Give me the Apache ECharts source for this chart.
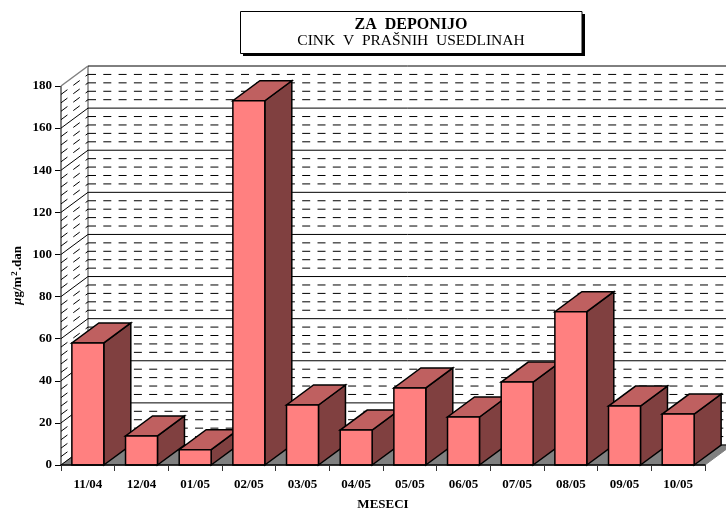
<!DOCTYPE html>
<html><head><meta charset="utf-8">
<style>html,body{margin:0;padding:0;background:#fff}#c{width:726px;height:512px}</style>
<script src="https://cdn.jsdelivr.net/npm/echarts@6/dist/echarts.min.js"></script>
</head><body><div id="c"></div>
<script>
var categories = ['11/04','12/04','01/05','02/05','03/05','04/05','05/05','06/05','07/05','08/05','09/05','10/05'];
var values = [58, 13.8, 7.3, 173, 28.5, 16.6, 36.6, 22.8, 39.4, 72.8, 28, 24.2];
var majorLevels = [0,20,40,60,80,100,120,140,160,180];
var minorLevels = [4,8,12,16,24,28,32,36,44,48,52,56,64,68,72,76,84,88,92,96,104,108,112,116,124,128,132,136,144,148,152,156,164,168,172,176];
var DX = 27, DY = -20;
var serif = '"Liberation Serif","Times New Roman",serif';
var chart = echarts.init(document.getElementById('c'), null, {renderer:'canvas'});

function line(x1,y1,x2,y2,style){ return {type:'line',shape:{x1:x1,y1:y1,x2:x2,y2:y2},style:style,silent:true}; }

function renderWallLine(params, api){
  var v = api.value(0), major = api.value(1) === 1;
  var a = api.coord([0, v]);
  var size = api.size([1,0])[0];
  var x0 = a[0] - size/2, y0 = a[1];
  var x1 = x0 + size*12;
  var st = major ? {stroke:'#000',lineWidth:1,fill:null}
                 : {stroke:'#000',lineWidth:1,lineDash:[8,7.3],fill:null};
  var side = v === 180 ? {stroke:'#808080',lineWidth:1.5,fill:null} : st;
  return {type:'group',children:[
    line(x0,y0,x0+DX,y0+DY,side),
    line(x0+DX,y0+DY,x1+DX,y0+DY,st)
  ]};
}
function renderFloor(params, api){
  var a = api.coord([0,0]);
  var top = api.coord([0,180])[1];
  var size = api.size([1,0])[0];
  var x0 = a[0]-size/2, x1 = x0+size*12, y=a[1];
  return {type:'group',children:[
    {type:'polygon',shape:{points:[[x0,y],[x1,y],[x1+DX,y+DY],[x0+DX,y+DY]]},style:{fill:'#808080',stroke:'#808080',lineWidth:1}},
    line(x0+DX,y+DY,x0+DX,top+DY,{stroke:'#808080',lineWidth:1.5}),
    line(x0,y,x0,top,{stroke:'#555',lineWidth:1.5})
  ]};
}
function renderBar(params, api){
  var i = api.value(0), v = api.value(1);
  var c = api.coord([i,v]), b = api.coord([i,0]);
  var w = api.size([1,0])[0]*0.595;
  var xl = c[0]-w/2, xr = c[0]+w/2, yt = c[1], yb = b[1];
  var stroke = {stroke:'#000',lineWidth:1.5,lineJoin:'miter'};
  return {type:'group',children:[
    {type:'polygon',shape:{points:[[xr,yb],[xr+DX,yb+DY],[xr+DX,yt+DY],[xr,yt]]},style:Object.assign({fill:'#804040'},stroke)},
    {type:'polygon',shape:{points:[[xl,yt],[xr,yt],[xr+DX,yt+DY],[xl+DX,yt+DY]]},style:Object.assign({fill:'#BF6060'},stroke)},
    {type:'polygon',shape:{points:[[xl,yb],[xr,yb],[xr,yt],[xl,yt]]},style:Object.assign({fill:'#FF8080'},stroke)}
  ]};
}
var wallData = majorLevels.map(function(v){return [v,1];}).concat(minorLevels.map(function(v){return [v,0];}));

chart.setOption({
  animation:false,
  backgroundColor:'#fff',
  title:{
    text:'ZA  DEPONIJO', subtext:'CINK  V  PRAŠNIH  USEDLINAH',
    left:411, top:17, textAlign:'center', itemGap:0, padding:0,
    textStyle:{fontFamily:serif,fontWeight:'bold',fontSize:16,color:'#000'},
    subtextStyle:{fontFamily:serif,fontSize:15.5,color:'#000'}
  },
  graphic:[
    {type:'rect',z:-1,shape:{x:243,y:14,width:342,height:42},style:{fill:'#000'}},
    {type:'rect',z:0,shape:{x:240.5,y:11.5,width:341.5,height:42},style:{fill:'#fff',stroke:'#000',lineWidth:1}}
  ],
  grid:{left:61,right:21,top:86,bottom:47,outerBoundsMode:'none'},
  xAxis:{
    type:'category',data:categories,
    name:'MESECI',nameLocation:'middle',nameGap:33,nameMoveOverlap:false,
    nameTextStyle:{fontFamily:serif,fontWeight:'bold',fontSize:13,color:'#000'},
    axisLine:{lineStyle:{color:'#000',width:1.5}},
    axisTick:{show:true,alignWithLabel:false,length:6,lineStyle:{color:'#333',width:1}},
    axisLabel:{fontFamily:serif,fontWeight:'bold',fontSize:13,color:'#000',margin:13,interval:0},
    splitLine:{show:false}, z:10
  },
  yAxis:{
    type:'value',min:0,max:180,interval:20,
    name:'{m|µ}{b|g/m}{s|2}{b|.dan}',nameLocation:'middle',nameGap:36,nameRotate:90,nameMoveOverlap:false,
    nameTextStyle:{rich:{
      m:{fontFamily:serif,fontWeight:'bold',fontStyle:'italic',fontSize:13,color:'#000'},
      b:{fontFamily:serif,fontWeight:'bold',fontSize:13,color:'#000'},
      s:{fontFamily:serif,fontWeight:'bold',fontSize:9,color:'#000',padding:[0,1,6,1]}
    }},
    axisLine:{show:false},
    axisTick:{show:true,length:6,lineStyle:{color:'#000',width:1}},
    axisLabel:{fontFamily:serif,fontWeight:'bold',fontSize:13,color:'#000',margin:9,padding:[3,0,0,0]},
    splitLine:{show:false}
  },
  series:[
    {type:'custom',name:'floor',clip:false,silent:true,z:1,renderItem:renderFloor,data:[[0]],encode:{x:0}},
    {type:'custom',name:'walls',clip:false,silent:true,z:2,renderItem:renderWallLine,data:wallData,encode:{y:0}},
    {type:'custom',name:'CINK',clip:false,z:5,renderItem:renderBar,
      data:values.map(function(v,i){return [i,v];}),encode:{x:0,y:1}}
  ]
});
</script></body></html>
